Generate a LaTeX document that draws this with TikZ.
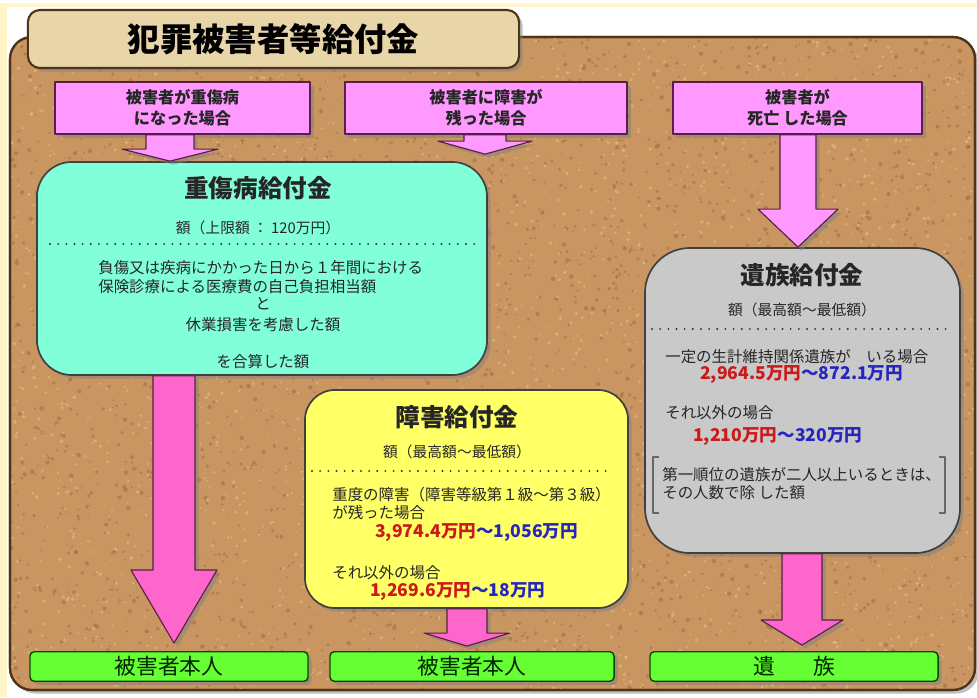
\documentclass[tikz,border=0pt]{standalone}
\usepackage{fontspec}
\setmainfont{Noto Sans CJK JP}
\usepackage{tikz}
\usetikzlibrary{calc}
\usetikzlibrary{shadows}
\definecolor{cork}{rgb}{0.79,0.59,0.38}
\definecolor{corkdark}{rgb}{0.58,0.38,0.20}
\definecolor{corklight}{rgb}{0.91,0.74,0.53}
\definecolor{corkedge}{rgb}{0.30,0.20,0.10}
\definecolor{parchment}{rgb}{0.91,0.84,0.66}
\definecolor{pinkbox}{rgb}{1.0,0.6,1.0}
\definecolor{pinkarrow}{rgb}{1.0,0.40,0.80}
\definecolor{pinkedge}{rgb}{0.35,0.12,0.28}
\definecolor{aqua}{rgb}{0.50,1.0,0.85}
\definecolor{lemon}{rgb}{1.0,1.0,0.40}
\definecolor{ash}{rgb}{0.79,0.79,0.79}
\definecolor{lime}{rgb}{0.40,1.0,0.20}
\definecolor{amountred}{rgb}{0.80,0.10,0.10}
\definecolor{amountblue}{rgb}{0.15,0.15,0.75}
\definecolor{paleyellow}{rgb}{1.0,0.96,0.78}

\begin{document}
\begin{tikzpicture}[x=0.025cm,y=-0.025cm,line join=round,
  shadowed/.style={drop shadow={shadow xshift=2.5pt,shadow yshift=-2.5pt,opacity=0.5}},
  casebox/.style={rectangle,draw=pinkedge,line width=1pt,fill=pinkbox,shadowed,minimum height=1.3cm,align=center,text=black!85,font=\bfseries\fontsize{11.5}{15}\selectfont},
  paybox/.style={rectangle,draw=black!75,line width=1.2pt,shadowed},
  whobox/.style={rectangle,rounded corners=3pt,draw=black!70!green,line width=1pt,fill=lime,shadowed,minimum height=0.725cm,text=black!85!green,font=\fontsize{15.5}{18}\selectfont},
  boxtitle/.style={inner sep=0pt,text=black!85,font=\bfseries\fontsize{17.5}{20}\selectfont},
  amttext/.style={inner sep=0pt,text=black!85,font=\fontsize{10.5}{12}\selectfont},
  bodytext/.style={inner sep=0pt,text=black!85,font=\fontsize{11}{13}\selectfont},
  amount/.style={inner sep=0pt,font=\bfseries\fontsize{12.5}{14}\selectfont},
  dotline/.style={line width=1.5pt,dash pattern=on 0pt off 5.8pt,line cap=round,black!80},
  block/.style={draw=pinkedge,line width=0.8pt,shadowed}]
\useasboundingbox (0,0) rectangle (977,697);
\fill[white] (0,0) rectangle (977,697);
\draw[paleyellow,line width=3pt] (0,5) -- (977,5);
\draw[paleyellow,line width=5pt] (3,5) -- (3,697);

% cork board
\filldraw[fill=cork,draw=corkedge,line width=1.5pt,rounded corners=0.55cm,shadowed] (10,37) rectangle (975,690);
\begin{scope}
\clip[rounded corners=0.55cm] (10,37) rectangle (975,690);
\pgfmathsetseed{11}
\foreach \i in {1,...,3200}{
  \pgfmathsetmacro\r{0.5+rnd*1.1}
  \fill[corkdark,opacity=0.45] (10+rnd*965,37+rnd*653) circle (\r pt);}
\foreach \i in {1,...,2400}{
  \pgfmathsetmacro\r{0.5+rnd*0.9}
  \fill[corklight,opacity=0.6] (10+rnd*965,37+rnd*653) circle (\r pt);}
\end{scope}
\draw[corkedge,line width=1.5pt,rounded corners=0.55cm] (10,37) rectangle (975,690);

% title
\node (titlebox) [rectangle,rounded corners=0.3cm,draw=corkedge,line width=1.5pt,fill=parchment,shadowed,minimum width=12.275cm,minimum height=1.45cm,font=\bfseries\fontsize{23}{26}\selectfont] at (273.5,39) {犯罪被害者等給付金};

% cases
\node[casebox,minimum width=6.375cm] (hurt) at (182.5,108) {被害者が重傷病\\になった場合};
\node[casebox,minimum width=7.05cm] (disabled) at (486,108) {被害者に障害が\\残った場合};
\node[casebox,minimum width=6.225cm] (death) at (797.5,108) {被害者が\\死亡 した場合};

% benefits
\node[paybox,fill=aqua,rounded corners=0.875cm,minimum width=11.25cm,minimum height=5.325cm] (jusho) at (262,268.5) {};
\node[paybox,fill=lemon,rounded corners=0.75cm,minimum width=8.075cm,minimum height=5.45cm] (shogai) at (466.5,499) {};
\node[paybox,fill=ash,rounded corners=1.125cm,minimum width=7.875cm,minimum height=7.625cm] (izoku) at (802.5,400.5) {};

% receivers
\node[whobox,minimum width=6.95cm] (self1) at (169,666.5) {被害者本人};
\node[whobox,minimum width=7.1cm] (self2) at (472,666.5) {被害者本人};
\node[whobox,minimum width=7.2cm] (family) at (794,666.5) {遺\hspace{1.75em}族};

% arrows
\coordinate (a1s) at (170,0 |- hurt.south);
\coordinate (a1e) at (170,0 |- jusho.north);
\coordinate (a2s) at (485,0 |- disabled.south);
\coordinate (a2e) at ($(485,0 |- jusho.north)+(0,-7)$);
\coordinate (a3s) at (798,0 |- death.south);
\coordinate (a3e) at (798,0 |- izoku.north);
\coordinate (a4s) at (174,0 |- jusho.south);
\coordinate (a4e) at ($(174,0 |- self1.north)+(0,-8)$);
\coordinate (a5s) at (467,0 |- shogai.south);
\coordinate (a5e) at ($(467,0 |- self2.north)+(0,-5)$);
\coordinate (a6s) at (802,0 |- izoku.south);
\coordinate (a6e) at ($(802,0 |- family.north)+(0,-6)$);
\foreach \s/\e/\w/\h/\l/\c in {a1s/a1e/24/48/12/pinkbox,a2s/a2e/21/47/13/pinkbox,a3s/a3e/18/40/38/pinkbox,a4s/a4e/21/43/73/pinkarrow,a5s/a5e/20/43/13/pinkarrow,a6s/a6e/20/41/25/pinkarrow}
  \filldraw[block,fill=\c] ($(\s)+(-\w,0)$) -- ($(\s)+(\w,0)$) -- ($(\e)+(\w,-\l)$) -- ($(\e)+(\h,-\l)$) -- (\e) -- ($(\e)+(-\h,-\l)$) -- ($(\e)+(-\w,-\l)$) -- cycle;

% texts of jusho
\node[boxtitle] (jtitle) at (258,188) {重傷病給付金};
\node[amttext] (jamt) at (258,228) {額（上限額 ： 120万円）};
\draw[dotline] (50,244) -- (477,244);
\node[bodytext,anchor=west] (jl1) at (98,268) {負傷又は疾病にかかった日から１年間における};
\node[bodytext,anchor=west] (jl2) at (98,287) {保険診療による医療費の自己負担相当額};
\node[bodytext] (jto) at (263,304) {と};
\node[bodytext] (jl3) at (263,325) {休業損害を考慮した額};
\node[bodytext] (jl4) at (263,362) {を合算した額};

% texts of shogai
\node[boxtitle] (stitle) at (457,417) {障害給付金};
\node[amttext] (samt) at (457,452) {額（最高額～最低額）};
\draw[dotline] (312,471) -- (613,471);
\node[bodytext,anchor=west] (sl1) at (332,495) {重度の障害（障害等級第１級～第３級）};
\node[bodytext,anchor=west] (sl2) at (332,513) {が残った場合};
\node[amount,anchor=west] (sv1) at (375,533) {\textcolor{amountred}{3,974.4万円}\textcolor{amountblue}{～1,056万円}};
\node[bodytext,anchor=west] (sl3) at (332,573) {それ以外の場合};
\node[amount,anchor=west] (sv2) at (370,592) {\textcolor{amountred}{1,269.6万円}\textcolor{amountblue}{～18万円}};

% texts of izoku
\node[boxtitle] (ititle) at (802,275) {遺族給付金};
\node[amttext] (iamt) at (802,310) {額（最高額～最低額）};
\draw[dotline] (652,329) -- (947,329);
\node[bodytext,anchor=west] (il1) at (665,357) {一定の生計維持関係遺族が　いる場合};
\node[amount,anchor=west] (iv1) at (700,375) {\textcolor{amountred}{2,964.5万円}\textcolor{amountblue}{～872.1万円}};
\node[bodytext,anchor=west] (il2) at (665,413) {それ以外の場合};
\node[amount,anchor=west] (iv2) at (693,437) {\textcolor{amountred}{1,210万円}\textcolor{amountblue}{～320万円}};
\draw[black!60,line width=0.8pt] (659,457) -- (653,457) -- (653,513) -- (659,513);
\draw[black!60,line width=0.8pt] (939,457) -- (945,457) -- (945,513) -- (939,513);
\node[bodytext,anchor=west] (il3) at (662,475) {第一順位の遺族が二人以上いるときは、};
\node[bodytext,anchor=west] (il4) at (662,493) {その人数で除 した額};
\end{tikzpicture}
\end{document}
